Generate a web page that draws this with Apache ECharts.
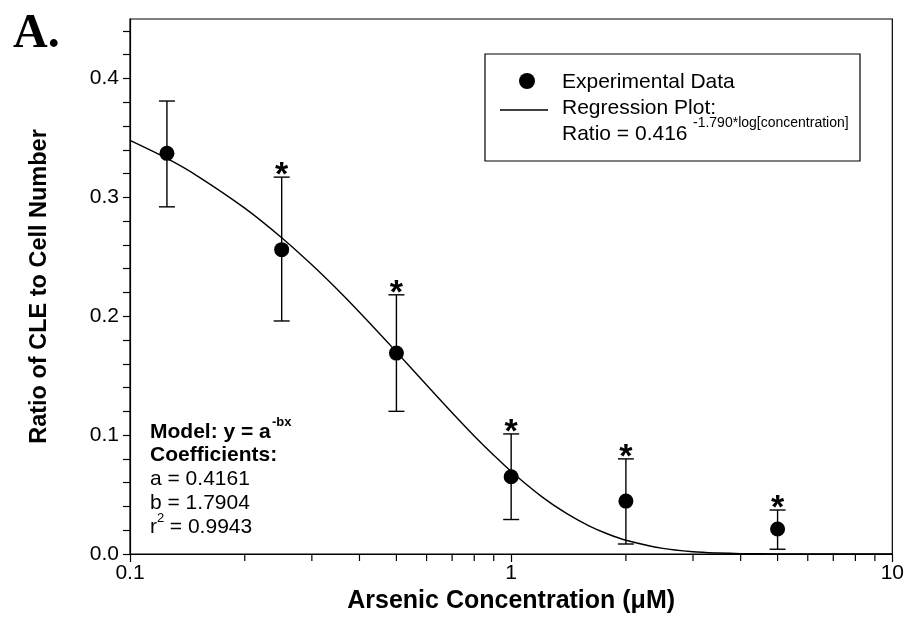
<!DOCTYPE html>
<html>
<head>
<meta charset="utf-8">
<script src="https://cdn.jsdelivr.net/npm/echarts@6/dist/echarts.min.js"></script>
<style>
  html, body { margin: 0; padding: 0; background: #fff; }
  #chart { width: 907px; height: 629px; }
</style>
</head>
<body>
<div id="chart"></div>
<script>
// Arsenic concentrations (µM) and measured CLE / cell-number ratios
const concentrations = [0.125, 0.25, 0.5, 1, 2, 5];
const ratioMean  = [0.337, 0.256, 0.169, 0.065, 0.0445, 0.021];
const ratioLow   = [0.292, 0.196, 0.120, 0.029, 0.0084, 0.004];
const ratioHigh  = [0.381, 0.317, 0.218, 0.101, 0.080, 0.037];
const significant = [false, true, true, true, true, true];

// Fitted regression curve samples
const curveX = [0.1, 0.125, 0.15, 0.2, 0.25, 0.3, 0.35, 0.4, 0.5, 0.6, 0.7, 0.8, 0.9, 1,
                1.2, 1.4, 1.6, 1.8, 2, 2.5, 3, 3.5, 4, 5, 6, 8, 10];
const curveY = [0.3479, 0.3327, 0.3181, 0.2909, 0.2660, 0.2432, 0.2224, 0.2033, 0.1700,
                0.1421, 0.1188, 0.0993, 0.0831, 0.0694, 0.0485, 0.0339, 0.0237, 0.0166,
                0.0116, 0.0047, 0.0019, 0.0008, 0.0003, 0.0001, 0.0000, 0.0000, 0.0000];

// Axis ticks
const yLabelValues = [0, 0.1, 0.2, 0.3, 0.4];
const yTickValues = [0, 0.02, 0.04, 0.06, 0.08, 0.1, 0.12, 0.14, 0.16, 0.18, 0.2, 0.22, 0.24,
                     0.26, 0.28, 0.3, 0.32, 0.34, 0.36, 0.38, 0.4, 0.42, 0.44];
const xMinorTicks = [0.2, 0.3, 0.4, 0.5, 0.6, 0.7, 0.8, 0.9, 2, 3, 4, 5, 6, 7, 8, 9];

const FONT = 'Arial, "Liberation Sans", sans-serif';

const chart = echarts.init(document.getElementById('chart'), null, { renderer: 'canvas' });

const errorData = concentrations.map((c, i) => [c, ratioLow[i], ratioHigh[i], significant[i] ? 1 : 0]);

chart.setOption({
  animation: false,
  backgroundColor: '#fff',
  grid: {
    left: 130, top: 19, width: 764, height: 535,
    show: true, borderColor: '#000', borderWidth: 1.2, backgroundColor: 'transparent'
  },
  xAxis: {
    type: 'log', logBase: 10, min: 0.1, max: 10,
    name: 'Arsenic Concentration (μM)',
    nameLocation: 'middle', nameGap: 35,
    nameTextStyle: { fontFamily: FONT, fontWeight: 'bold', fontSize: 25, color: '#000' },
    axisLine: { lineStyle: { color: '#000', width: 1.2 } },
    axisTick: { show: true, length: 8, lineStyle: { color: '#000', width: 1.2 } },
    axisLabel: {
      fontFamily: FONT, fontSize: 21, color: '#000', margin: 9,
      formatter: v => String(v)
    },
    splitLine: { show: false }
  },
  yAxis: {
    type: 'value', min: 0, max: 0.45,
    name: 'Ratio of CLE to Cell Number',
    nameLocation: 'middle', nameGap: 78, nameRotate: 90,
    nameTextStyle: { fontFamily: FONT, fontWeight: 'bold', fontSize: 23.5, color: '#000' },
    axisLine: { show: true, lineStyle: { color: '#000', width: 1.2 } },
    axisTick: { show: true, length: 7, customValues: yTickValues, lineStyle: { color: '#000', width: 1.2 } },
    axisLabel: {
      fontFamily: FONT, fontSize: 21, color: '#000', margin: 11,
      customValues: yLabelValues,
      formatter: v => v.toFixed(1)
    },
    splitLine: { show: false }
  },
  series: [
    {
      // regression curve
      type: 'line',
      data: curveX.map((x, i) => [x, curveY[i]]),
      smooth: 0.3,
      showSymbol: false,
      lineStyle: { color: '#000', width: 1.4 },
      z: 2
    },
    {
      // error bars with significance markers
      type: 'custom',
      data: errorData,
      z: 3,
      renderItem: (params, api) => {
        const x = api.value(0);
        const lo = api.coord([x, api.value(1)]);
        const hi = api.coord([x, api.value(2)]);
        const cap = 8;
        const style = { stroke: '#000', lineWidth: 1.4 };
        const children = [
          { type: 'line', shape: { x1: lo[0], y1: lo[1], x2: hi[0], y2: hi[1] }, style },
          { type: 'line', shape: { x1: lo[0] - cap, y1: lo[1], x2: lo[0] + cap, y2: lo[1] }, style },
          { type: 'line', shape: { x1: hi[0] - cap, y1: hi[1], x2: hi[0] + cap, y2: hi[1] }, style }
        ];
        if (api.value(3)) {
          children.push({
            type: 'text',
            style: {
              text: '*', x: hi[0], y: hi[1] - 1,
              font: 'bold 34px ' + FONT, fill: '#000',
              align: 'center', verticalAlign: 'middle'
            }
          });
        }
        return { type: 'group', children };
      }
    },
    {
      // experimental data points
      type: 'scatter',
      data: concentrations.map((c, i) => [c, ratioMean[i]]),
      symbol: 'circle',
      symbolSize: 15,
      itemStyle: { color: '#000', opacity: 1 },
      z: 4
    },
    {
      // minor ticks on the logarithmic x axis
      type: 'custom',
      data: xMinorTicks.map(v => [v, 0]),
      clip: false,
      silent: true,
      z: 1,
      renderItem: (params, api) => {
        const p = api.coord([api.value(0), 0]);
        return {
          type: 'line',
          shape: { x1: p[0], y1: p[1], x2: p[0], y2: p[1] + 7 },
          style: { stroke: '#000', lineWidth: 1.2 }
        };
      }
    }
  ],
  graphic: [
    { type: 'text', left: 13, top: 11,
      style: { text: 'A.', font: 'bold 48px "Liberation Serif", "Times New Roman", serif', fill: '#000' } },
    // legend box
    { type: 'rect', shape: { x: 485, y: 54, width: 375, height: 107 },
      style: { fill: '#fff', stroke: '#000', lineWidth: 1.2 }, z: 10 },
    { type: 'circle', shape: { cx: 527, cy: 81, r: 8 }, style: { fill: '#000' }, z: 11 },
    { type: 'line', shape: { x1: 500, y1: 110, x2: 548, y2: 110 },
      style: { stroke: '#000', lineWidth: 1.4 }, z: 11 },
    { type: 'text', x: 562, y: 82, z: 11,
      style: { text: 'Experimental Data', font: '21px ' + FONT, fill: '#000', verticalAlign: 'middle' } },
    { type: 'text', x: 562, y: 108, z: 11,
      style: { text: 'Regression Plot:', font: '21px ' + FONT, fill: '#000', verticalAlign: 'middle' } },
    { type: 'text', x: 562, y: 134, z: 11,
      style: { text: 'Ratio = 0.416', font: '21px ' + FONT, fill: '#000', verticalAlign: 'middle' } },
    { type: 'text', x: 693, y: 123, z: 11,
      style: { text: '-1.790*log[concentration]', font: '14px ' + FONT, fill: '#000', verticalAlign: 'middle' } },
    // model annotation
    { type: 'text', x: 150, y: 432, z: 11,
      style: { text: 'Model: y = a', font: 'bold 21px ' + FONT, fill: '#000', verticalAlign: 'middle' } },
    { type: 'text', x: 272, y: 422, z: 11,
      style: { text: '-bx', font: 'bold 13px ' + FONT, fill: '#000', verticalAlign: 'middle' } },
    { type: 'text', x: 150, y: 455, z: 11,
      style: { text: 'Coefficients:', font: 'bold 21px ' + FONT, fill: '#000', verticalAlign: 'middle' } },
    { type: 'text', x: 150, y: 479, z: 11,
      style: { text: 'a = 0.4161', font: '21px ' + FONT, fill: '#000', verticalAlign: 'middle' } },
    { type: 'text', x: 150, y: 503, z: 11,
      style: { text: 'b = 1.7904', font: '21px ' + FONT, fill: '#000', verticalAlign: 'middle' } },
    { type: 'text', x: 150, y: 527, z: 11,
      style: { text: 'r', font: '21px ' + FONT, fill: '#000', verticalAlign: 'middle' } },
    { type: 'text', x: 157, y: 518, z: 11,
      style: { text: '2', font: '13px ' + FONT, fill: '#000', verticalAlign: 'middle' } },
    { type: 'text', x: 164, y: 527, z: 11,
      style: { text: ' = 0.9943', font: '21px ' + FONT, fill: '#000', verticalAlign: 'middle' } }
  ]
});
</script>
</body>
</html>
